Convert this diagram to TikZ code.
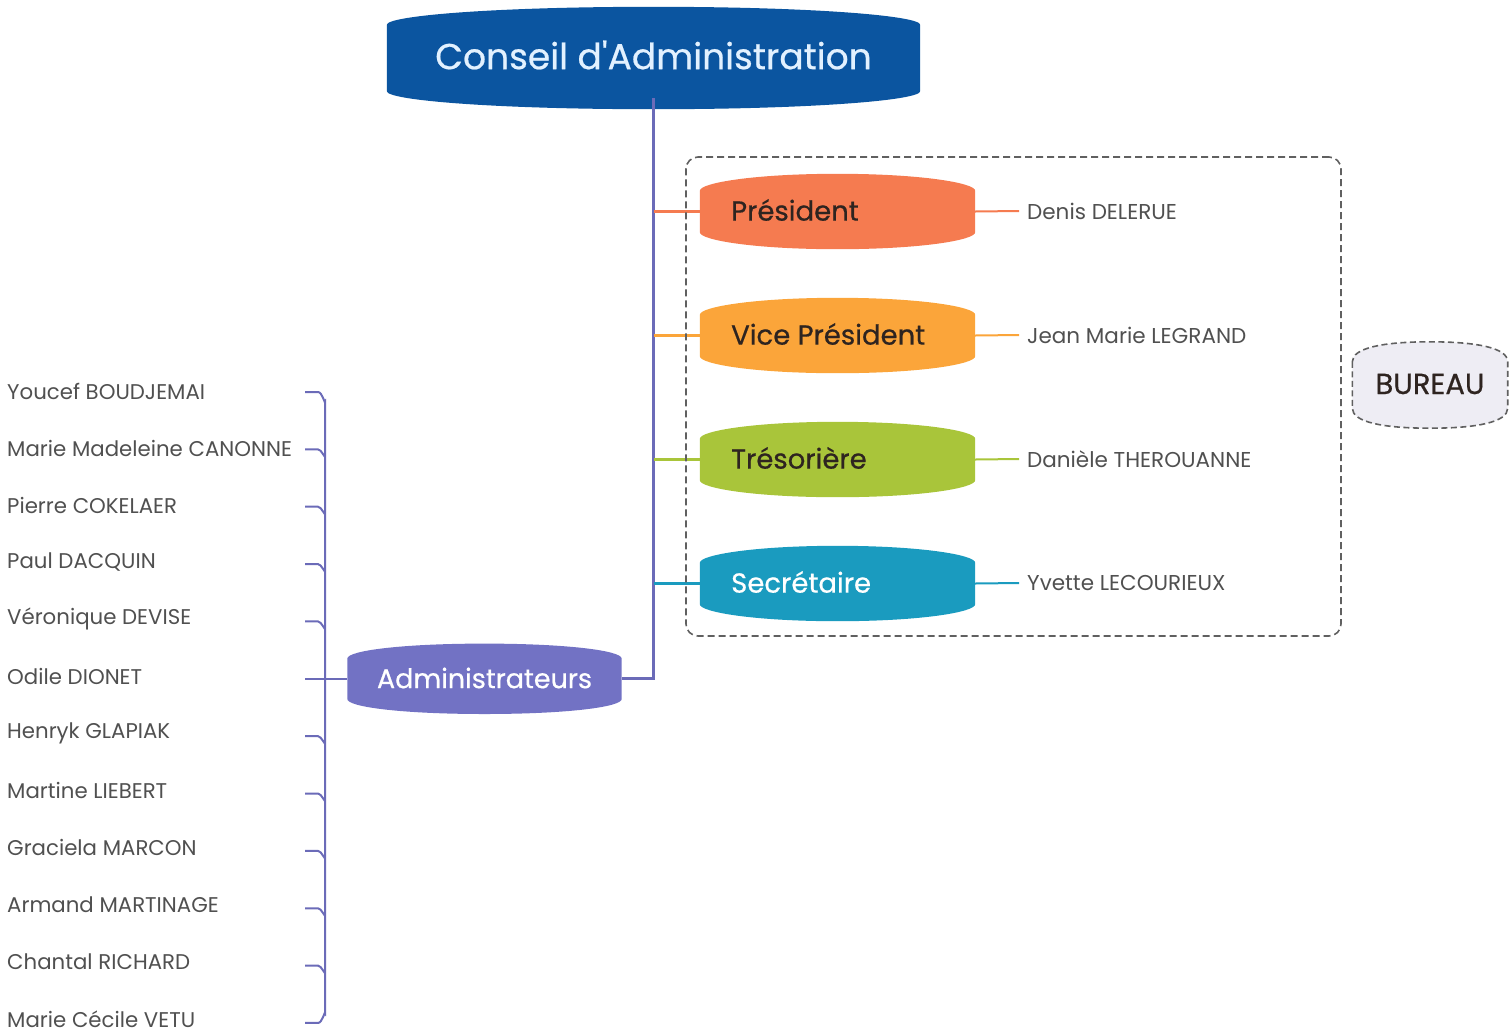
\documentclass[tikz,border=0pt]{standalone}
\usepackage{fontspec}
\setmainfont{Poppins}
\newfontfamily\pmid[FakeBold=0.6]{Poppins}
\usetikzlibrary{calc,backgrounds}
\definecolor{cablue}{HTML}{0B55A0}
\definecolor{catext}{HTML}{E2F1FF}
\definecolor{purp}{HTML}{6B6BB8}
\definecolor{admfill}{HTML}{7272C4}
\definecolor{prescol}{HTML}{F57B50}
\definecolor{vpcol}{HTML}{FBA53A}
\definecolor{trescol}{HTML}{A9C53A}
\definecolor{seccol}{HTML}{1A9BBF}
\definecolor{roletext}{HTML}{2E2420}
\definecolor{nametext}{HTML}{505050}
\definecolor{dashcol}{HTML}{606060}
\definecolor{burfill}{HTML}{EEEDF4}
% barrel background: style, node name, fill colour, bulge, corner
\newcommand\brl[5][]{%
\path[#1, fill=#3] ($(#2.north west)+(0,#5)$) -- ($(#2.south west)+(0,-#5)$)
 .. controls ($(#2.south west)+(0,2)$) and ($(#2.south west)!0.2!(#2.south east)+(0,#4)$) .. ($(#2.south)+(0,#4)$)
 .. controls ($(#2.south west)!0.8!(#2.south east)+(0,#4)$) and ($(#2.south east)+(0,2)$) .. ($(#2.south east)+(0,-#5)$)
 -- ($(#2.north east)+(0,#5)$)
 .. controls ($(#2.north east)+(0,-2)$) and ($(#2.north west)!0.8!(#2.north east)+(0,-#4)$) .. ($(#2.north)+(0,-#4)$)
 .. controls ($(#2.north west)!0.2!(#2.north east)+(0,-#4)$) and ($(#2.north west)+(0,-2)$) .. ($(#2.north west)+(0,#5)$) -- cycle;}
\tikzset{
  rolebox/.style={minimum width=275pt, minimum height=53pt, inner sep=0pt, anchor=center},
  roletxt/.style={anchor=west, inner sep=0pt, font=\pmid\fontsize{27.5}{32}\selectfont, text=roletext},
  rname/.style={anchor=west, inner sep=0pt, font=\fontsize{21.5}{26}\selectfont, text=nametext},
  lname/.style={anchor=west, inner sep=0pt, font=\fontsize{21.3}{26}\selectfont, text=nametext},
  conn/.style={line width=2.5pt},
  brk/.style={purp, line width=2pt},
}
\begin{document}
\begin{tikzpicture}[x=1pt,y=-1pt]
\useasboundingbox (0,0) rectangle (1509,1034);
% main nodes
\node[minimum width=533pt, minimum height=80pt, inner sep=0pt] (ca) at (653.5,58) {};
\node[text=catext, font=\pmid\fontsize{36}{42}\selectfont] (catx) at (653.5,55) {Conseil d'Administration};
\node[rolebox] (pres) at (837.5,211.5) {};
\node[rolebox] (vp) at (837.5,335.5) {};
\node[rolebox] (tres) at (837.5,459.5) {};
\node[rolebox] (sec) at (837.5,583.5) {};
\node[roletxt] at (731,210) {Président};
\node[roletxt] at (731,334) {Vice Président};
\node[roletxt] at (731,458) {Trésorière};
\node[roletxt, text=white] at (731,582) {Secrétaire};
\node[minimum width=274pt, minimum height=52pt, inner sep=0pt] (adm) at (484.5,678.8) {};
\node[text=white, font=\pmid\fontsize{27}{32}\selectfont] at (484.5,678) {Administrateurs};
\node[minimum width=155pt, minimum height=70pt, inner sep=0pt] (bur) at (1430,385) {};
\node[text=roletext, font=\pmid\fontsize{29}{34}\selectfont] at (1430,384) {BUREAU};
\node[draw=dashcol, dashed, dash pattern=on 7pt off 4pt, line width=1.6pt, rounded corners=12pt, minimum width=655pt, minimum height=479pt] (frame) at (1013.5,396.5) {};
% right names
\node[rname] (n1) at (1027,211) {Denis DELERUE};
\node[rname] (n2) at (1027,335) {Jean Marie LEGRAND};
\node[rname] (n3) at (1027,459) {Danièle THEROUANNE};
\node[rname] (n4) at (1027,583) {Yvette LECOURIEUX};
% left names
\foreach \i/\t in {1/Youcef BOUDJEMAI,2/Marie Madeleine CANONNE,3/Pierre COKELAER,4/Paul DACQUIN,5/Véronique DEVISE,6/Odile DIONET,7/Henryk GLAPIAK,8/Martine LIEBERT,9/Graciela MARCON,10/Armand MARTINAGE,11/Chantal RICHARD,12/Marie Cécile VETU}{
  \node[lname] (m\i) at (7,{391+57.1*(\i-1)}) {\t};
  \coordinate (t\i) at (305,{392+57.36*(\i-1)});
}
% backgrounds
\begin{scope}[on background layer]
\brl{ca}{cablue}{11}{7}
\brl{pres}{prescol}{11}{6}
\brl{vp}{vpcol}{11}{6}
\brl{tres}{trescol}{11}{6}
\brl{sec}{seccol}{11}{6}
\brl{adm}{admfill}{9}{6}
\brl[draw=dashcol, dashed, dash pattern=on 6pt off 3.5pt, line width=1.6pt]{bur}{burfill}{8}{12}
% connectors
\draw[purp, line width=3pt] (ca.south) |- (adm.east);
\draw[prescol, conn] (pres.west -| ca.south) -- (pres.west);
\draw[vpcol, conn] (vp.west -| ca.south) -- (vp.west);
\draw[trescol, conn] (tres.west -| ca.south) -- (tres.west);
\draw[seccol, conn] (sec.west -| ca.south) -- (sec.west);
\draw[prescol, line width=2pt] (pres.east) -- ($(n1.west)+(-8,0)$);
\draw[vpcol, line width=2pt] (vp.east) -- ($(n2.west)+(-8,0)$);
\draw[trescol, line width=2pt] (tres.east) -- ($(n3.west)+(-8,0)$);
\draw[seccol, line width=2pt] (sec.east) -- ($(n4.west)+(-8,0)$);
% bracket
\draw[brk] (t1) -- ++(13,0) to[out=0,in=-90] ++(7,9) -- ($(t12)+(20,-9)$) to[out=90,in=0] ($(t12)+(13,0)$) -- (t12);
\foreach \i in {2,3,4,5,7,8,9,10,11}{
  \draw[brk] (t\i) -- ++(13,0) to[out=0,in=-95] ++(7,6);
}
\draw[purp, line width=2.5pt] (t6) -- (adm.west);
\end{scope}
\end{tikzpicture}
\end{document}
